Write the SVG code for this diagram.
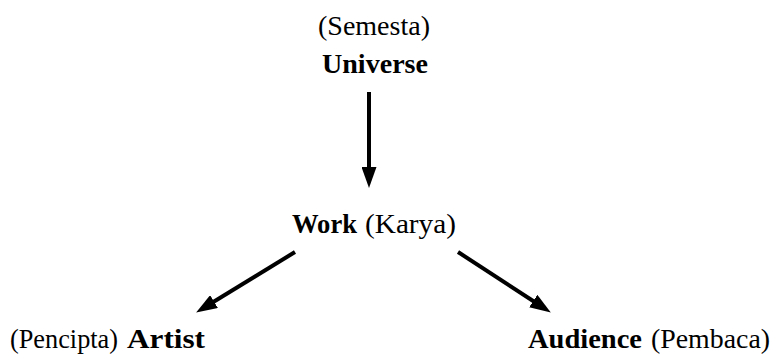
<svg xmlns="http://www.w3.org/2000/svg" width="772" height="356" viewBox="0 0 772 356">
  <style>
    text { font-family: "Liberation Serif", "Times New Roman", serif; font-size: 27px; fill: #000; }
    .b { font-weight: bold; }
    .conn line { stroke: #000; stroke-width: 4; fill: none; marker-end: url(#ah); }
  </style>
  <defs>
    <marker id="ah" markerUnits="userSpaceOnUse" markerWidth="21" markerHeight="15" refX="10" refY="7.5" orient="auto" viewBox="0 0 21 15">
      <path d="M0,0 L21,7.5 L0,15 z" fill="#000"/>
    </marker>
  </defs>
  <rect width="772" height="356" fill="#fff"/>
  <g id="universe">
    <text x="318" y="35" textLength="112" lengthAdjust="spacingAndGlyphs">(Semesta)</text>
    <text class="b" x="322" y="73" textLength="106" lengthAdjust="spacingAndGlyphs">Universe</text>
  </g>
  <g id="work">
    <text class="b" x="292" y="233" textLength="65" lengthAdjust="spacingAndGlyphs">Work</text>
    <text x="365" y="233" textLength="91" lengthAdjust="spacingAndGlyphs">(Karya)</text>
  </g>
  <g id="artist">
    <text x="10" y="348" textLength="108" lengthAdjust="spacingAndGlyphs">(Pencipta)</text>
    <text class="b" x="127" y="348" textLength="78" lengthAdjust="spacingAndGlyphs">Artist</text>
  </g>
  <g id="audience">
    <text class="b" x="528" y="348" textLength="114" lengthAdjust="spacingAndGlyphs">Audience</text>
    <text x="651" y="348" textLength="119" lengthAdjust="spacingAndGlyphs">(Pembaca)</text>
  </g>
  <g id="connectors" class="conn">
    <line x1="369" y1="92" x2="369" y2="177"/>
    <line x1="295" y1="252" x2="205.5" y2="306.8"/>
    <line x1="458" y1="252" x2="541.6" y2="306.5"/>
  </g>
</svg>
